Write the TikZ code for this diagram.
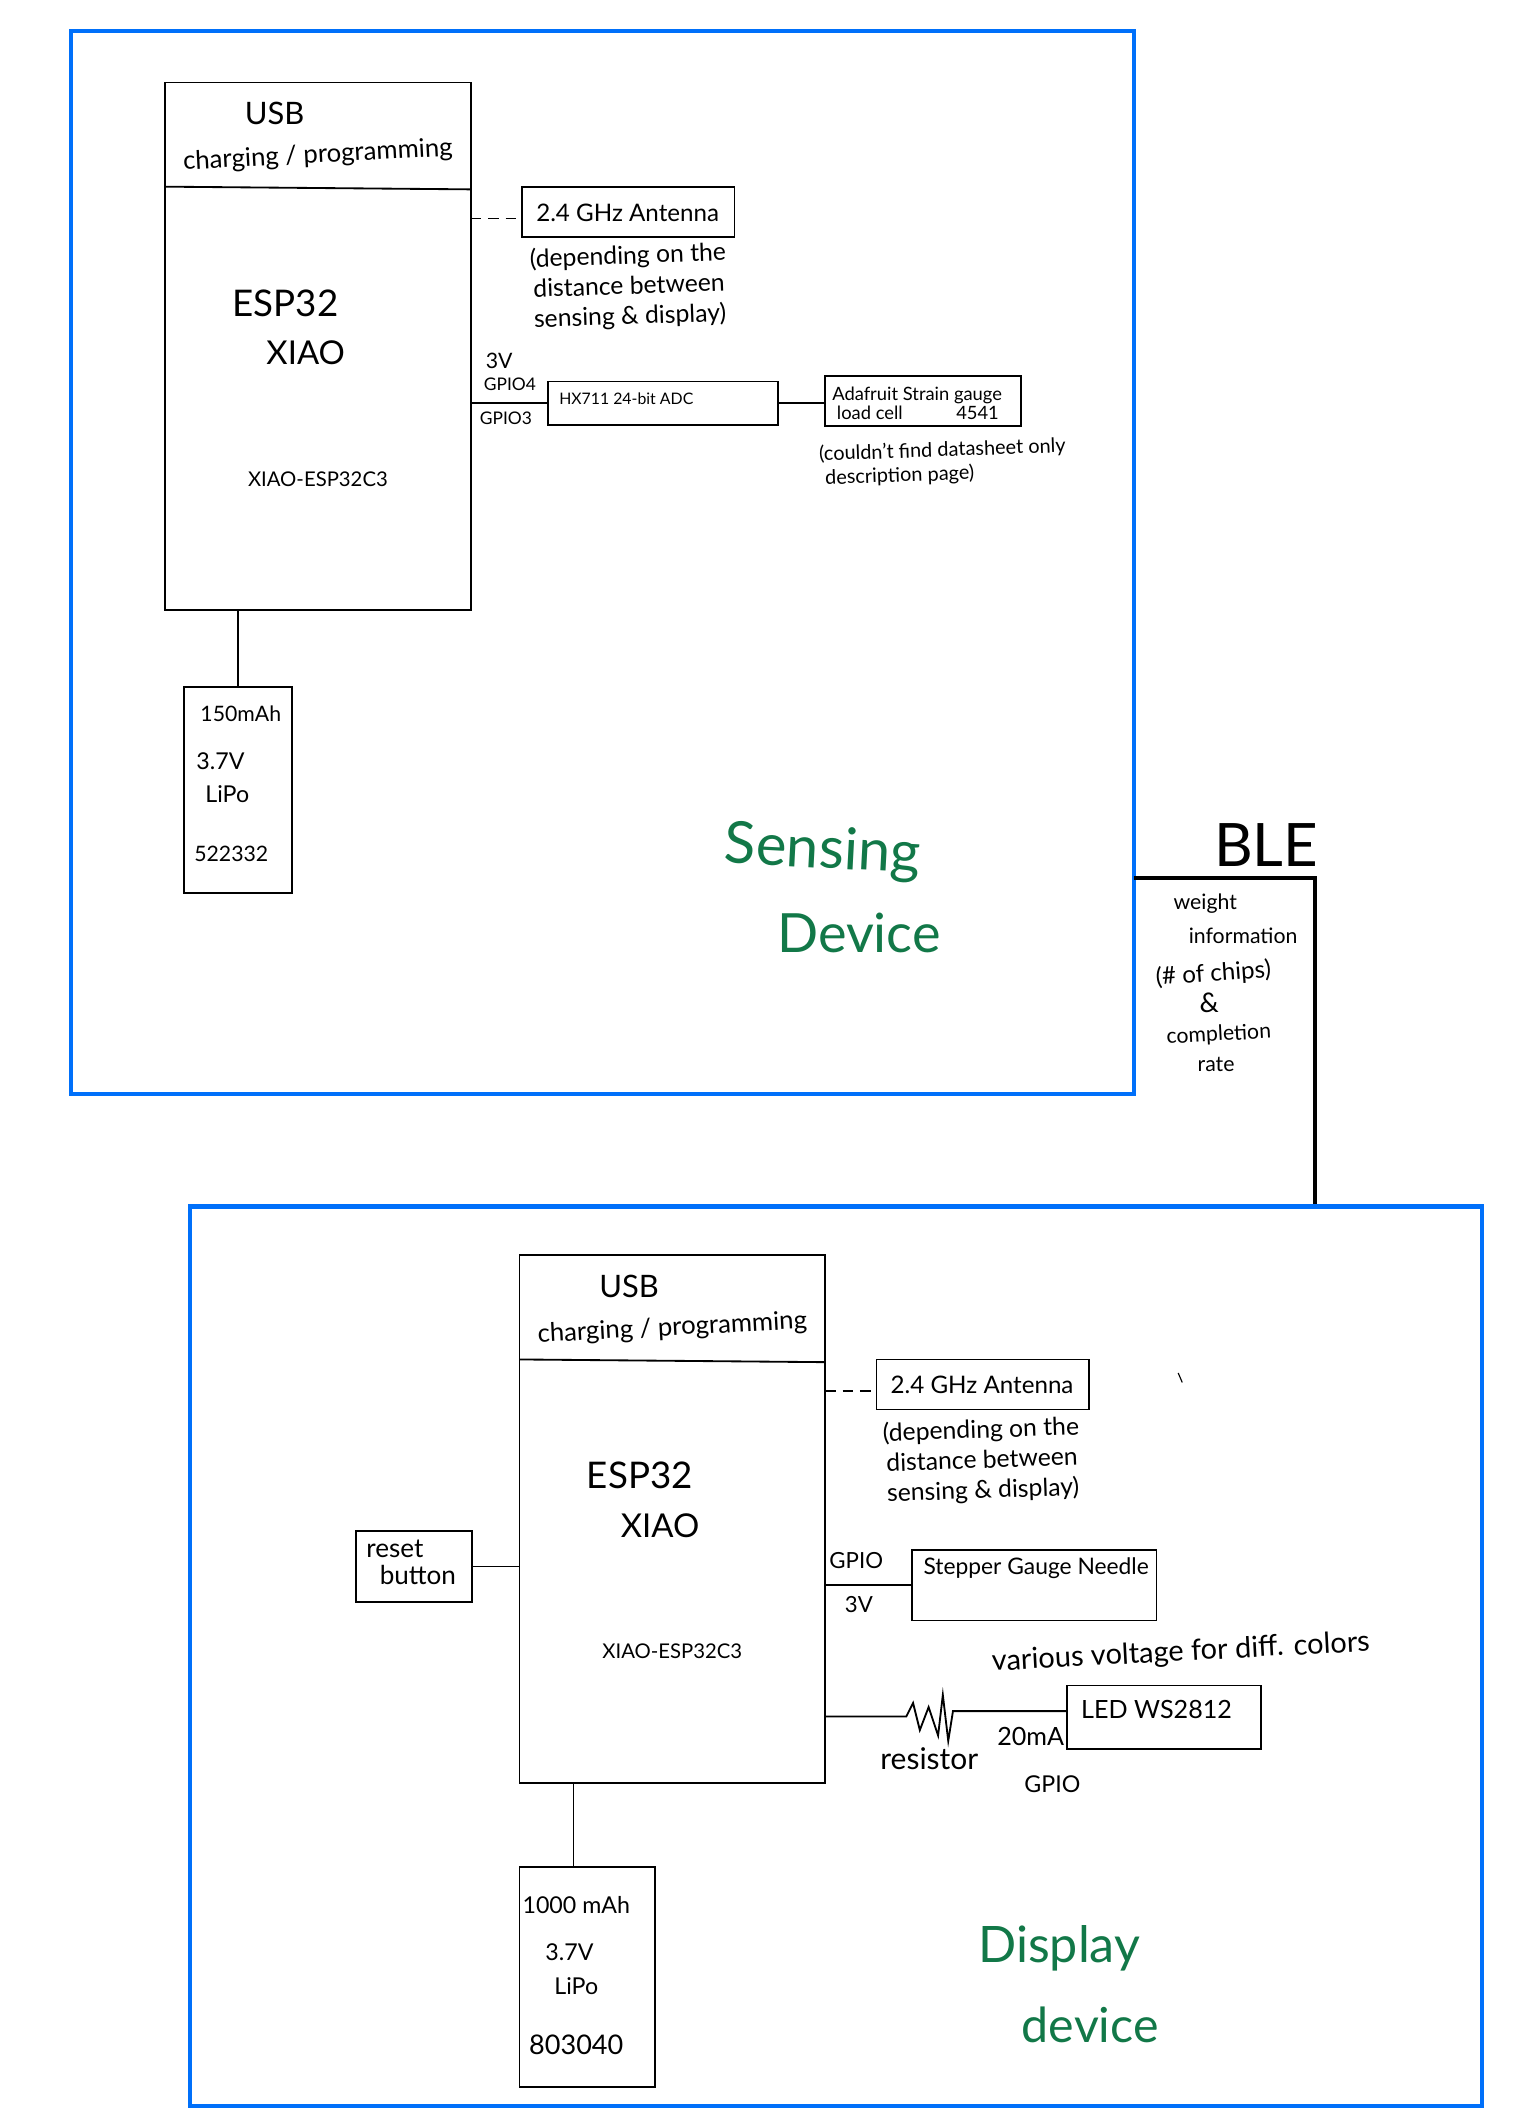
\documentclass[tikz,border=0pt]{standalone}
\usepackage{fontspec}
\usepackage{xcolor}
\usepackage{tikz}
\usetikzlibrary{positioning}
\setmainfont{Lato}
\definecolor{groupblue}{RGB}{0,112,250}
\definecolor{notegreen}{RGB}{18,120,72}

\begin{document}
\begin{tikzpicture}[
  x=0.7pt,y=-0.7pt,
  part/.style 2 args={rectangle,draw=black,line width=0.95pt,inner sep=0pt,outer sep=0pt,
    minimum width=#1*0.7pt,minimum height=#2*0.7pt},
  group/.style 2 args={rectangle,draw=groupblue,line width=2.2pt,inner sep=0pt,outer sep=0pt,
    minimum width=#1*0.7pt,minimum height=#2*0.7pt},
  hand/.style={inner sep=0pt,align=center,font=\fontsize{#1}{\dimexpr #1pt*13/10\relax}\selectfont},
  hand/.default=10,
  green/.style={hand=#1,text=notegreen},
  wire/.style={line width=0.95pt},
  gap/.style={wire,dash pattern=on 5.5pt off 3.5pt},
  link/.style={line width=2.2pt,line join=miter},
]
  \useasboundingbox (0,0) rectangle (1137,1568);

  % sensing device
  \node[group={786}{786}] (sens) at (445.5,416) {};
  \node[part={226}{390}] (esp1) at (235,256) {};
  \coordinate (div1a) at (122,138);
  \coordinate (div1b) at (348,140);
  \draw[wire] (div1a) -- (div1b);
  \node[hand=16] (usb1) at (203,84) {USB};
  \node[hand=13.3,rotate=3] (chg1) at (235,115) {charging / programming};
  \node[hand=19] (name1) at (211,224) {ESP32};
  \node[hand=17] (xiao1) at (226,261) {XIAO};
  \node[hand=10.5] (sku1) at (235,354) {XIAO-ESP32C3};
  \node[part={157}{37}] (ant1) at (464.5,156.5) {};
  \node[hand=12.5] (antt1) at (464,157) {2.4 GHz Antenna};
  \node[hand=12.8,rotate=2] (anote1) at (465,212) {(depending on the\\[-1pt]distance between\\[-1pt]sensing \& display)};
  \draw[gap] ([yshift=-3.5pt]ant1.west -| esp1.east) -- ([yshift=-3.5pt]ant1.west);
  \node[hand=11] (v3a) at (369,267) {3V};
  \node[hand=9] (gpa) at (377,284) {GPIO4};
  \node[hand=9] (gpb) at (374,309) {GPIO3};
  \node[part={170}{32}] (hx) at (490,298) {};
  \node[hand=8.2] (hxt) at (463,295) {HX711 24-bit ADC};
  \node[part={145}{37}] (gauge) at (682.5,296.5) {};
  \node[hand=9.5,align=left] (gauget) at (678,298) {Adafruit Strain gauge\\[-2.5pt]\ load cell \hspace{2.4em} 4541};
  \node[hand=10.3,rotate=2,align=left] (gnote) at (697,342) {(couldn't find datasheet only\\[-1pt]\ description page)};
  \draw[wire] (hx.west) -- (hx.west -| esp1.east);
  \draw[wire] (hx.east) -- (hx.east -| gauge.west);
  \node[part={80}{152}] (bat1) at (176,584) {};
  \draw[wire] (bat1.north) -- (bat1.north |- esp1.south);
  \node[hand=11] (mah1) at (178,528) {150mAh};
  \node[hand=12] (vb1) at (163,563) {3.7V};
  \node[hand=12] (li1) at (168,587) {LiPo};
  \node[hand=11] (bn1) at (171,631) {522332};
  \node[green=30,rotate=-3] (sensa) at (608,630) {Sensing};
  \node[green=28] (sensb) at (635,690) {Device};

  % wireless link
  \coordinate (blea) at (838,649);
  \coordinate (bleb) at (972,892);
  \draw[link] (blea) -| (bleb);
  \node[hand=31] (ble) at (936,625) {BLE};
  \node[hand=11] (la) at (891,668) {weight};
  \node[hand=11] (lb) at (919,692) {information};
  \node[hand=12.5,rotate=4] (lc) at (897,720) {(\# of chips)};
  \node[hand=14] (ld) at (894,741) {\&};
  \node[hand=11,rotate=3] (le) at (901,765) {completion};
  \node[hand=11] (lf) at (899,787) {rate};

  % display device
  \node[group={955}{665}] (disp) at (618,1224.5) {};
  \node[part={226}{390}] (esp2) at (497,1123) {};
  \coordinate (div2a) at (384,1005);
  \coordinate (div2b) at (610,1007);
  \draw[wire] (div2a) -- (div2b);
  \node[hand=16] (usb2) at (465,951) {USB};
  \node[hand=13.3,rotate=3] (chg2) at (497,982) {charging / programming};
  \node[hand=19] (name2) at (473,1091) {ESP32};
  \node[hand=17] (xiao2) at (488,1128) {XIAO};
  \node[hand=10.5] (sku2) at (497,1221) {XIAO-ESP32C3};
  \node[part={157}{37}] (ant2) at (726.5,1023.5) {};
  \node[hand=12.5] (antt2) at (726,1024) {2.4 GHz Antenna};
  \node[hand=12.8,rotate=2] (anote2) at (726,1080) {(depending on the\\[-1pt]distance between\\[-1pt]sensing \& display)};
  \draw[gap] ([yshift=-3.5pt]ant2.west -| esp2.east) -- ([yshift=-3.5pt]ant2.west);
  \coordinate (ticka) at (871,1015);
  \coordinate (tickb) at (874,1022);
  \draw[line width=0.6pt] (ticka) -- (tickb);
  \node[part={86}{52}] (rst) at (306,1158) {};
  \node[hand=13.5,align=left] (rstt) at (304,1155) {reset\\[-4pt]\ \ button};
  \draw[wire] (rst.east) -- (rst.east -| esp2.west);
  \node[hand=11.5] (gpc) at (633,1154) {GPIO};
  \node[hand=11.5] (v3b) at (635,1186) {3V};
  \node[part={181}{52}] (step) at (764.5,1172) {};
  \node[hand=11.8] (stept) at (766,1159) {Stepper Gauge Needle};
  \draw[wire] (step.west) -- (step.west -| esp2.east);
  \node[hand=15,rotate=3] (volt) at (873,1222) {various voltage for diff. colors};
  \node[part={143}{47}] (led) at (860.5,1269.5) {};
  \node[hand=13] (ledt) at (855,1264) {LED WS2812};
  \coordinate (resa) at (670,1269);
  \coordinate (resb) at (704.5,1265);
  \draw[wire] (esp2.east |- resa) -- (resa) -- (675,1259) -- (680,1279) -- (686.5,1262)
    -- (693.5,1283) -- (697,1253) -- (701,1287) -- (resb) -- (resb -| led.west);
  \node[hand=15.5] (rest) at (687,1300) {resistor};
  \node[hand=13] (ma) at (762,1284) {20mA};
  \node[hand=12] (gpd) at (778,1319) {GPIO};
  \node[part={100}{163}] (bat2) at (434,1461.5) {};
  \coordinate (batw) at (424,1380);
  \draw[wire] (batw) -- (batw |- esp2.south);
  \node[hand=12] (mah2) at (426,1408) {1000 mAh};
  \node[hand=12] (vb2) at (421,1443) {3.7V};
  \node[hand=12] (li2) at (426,1468) {LiPo};
  \node[hand=14] (bn2) at (426,1512) {803040};
  \node[green=26] (dispa) at (783,1440) {Display};
  \node[green=25] (dispb) at (806,1497) {device};
\end{tikzpicture}
\end{document}
